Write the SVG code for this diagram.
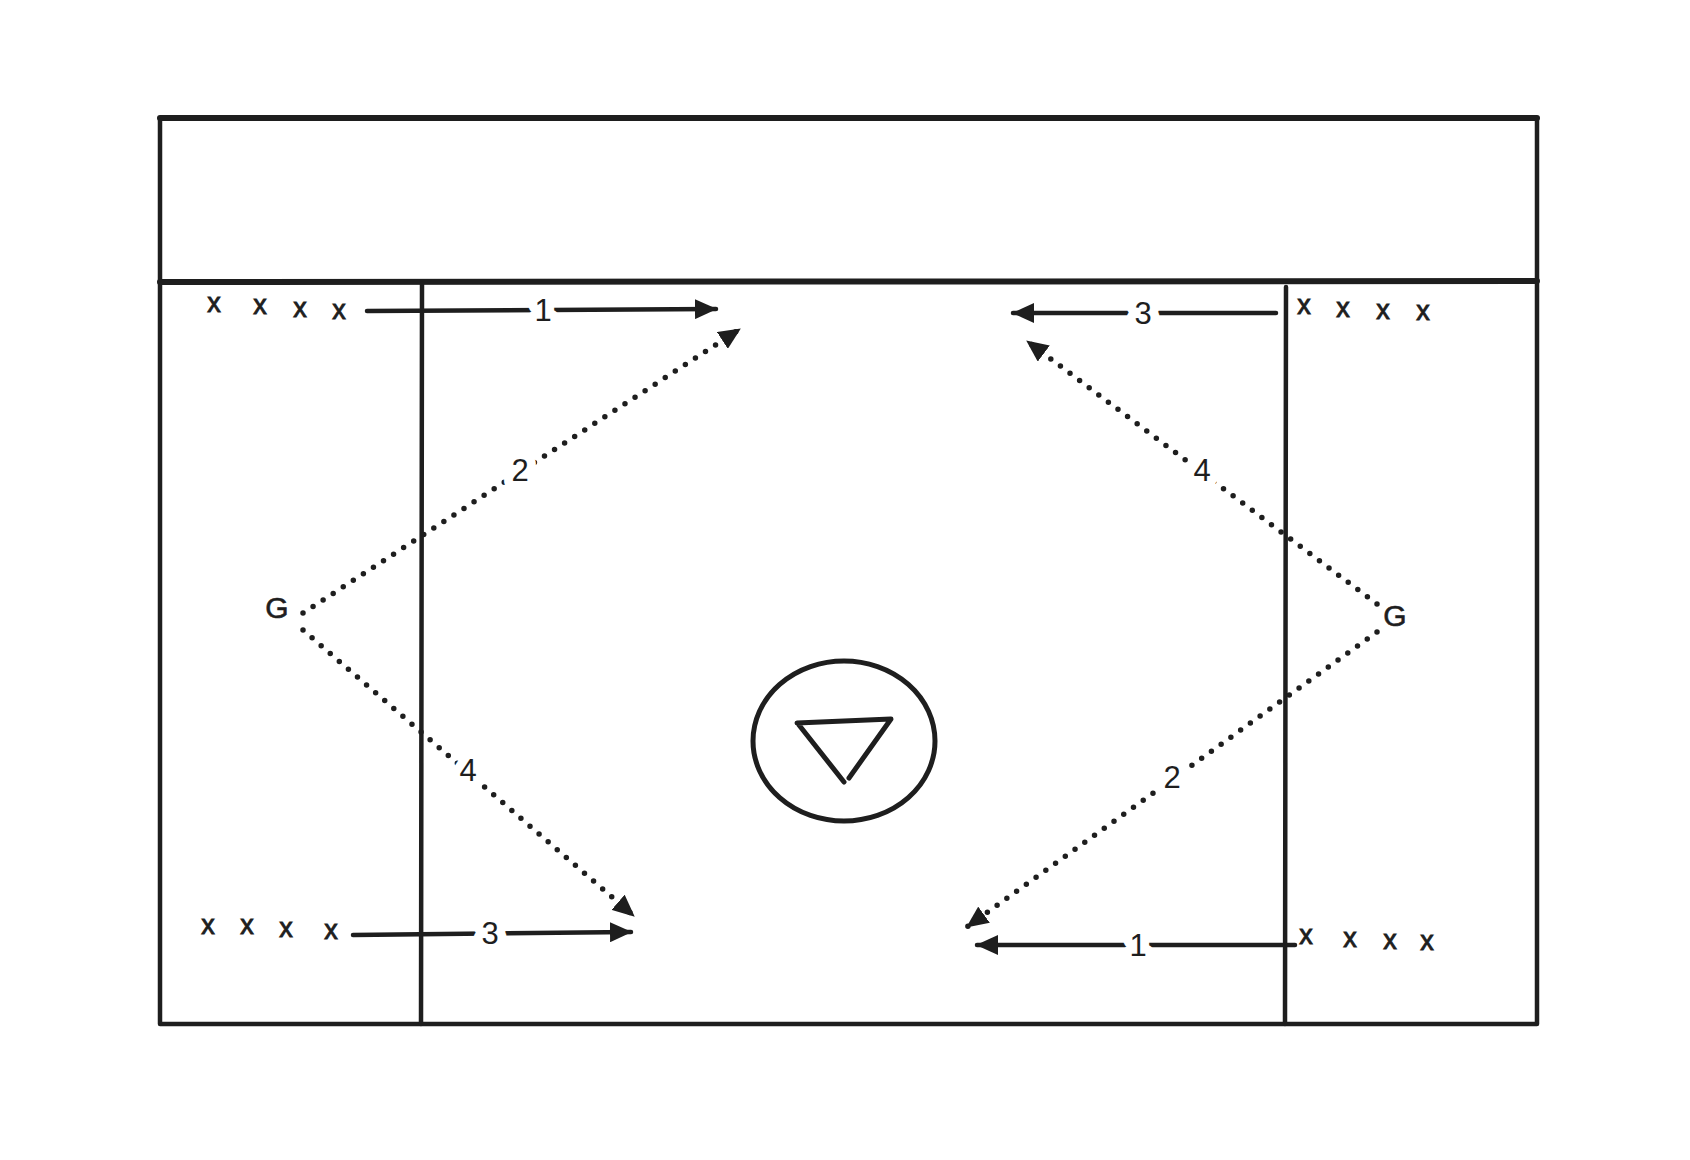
<svg xmlns="http://www.w3.org/2000/svg" width="1690" height="1160" viewBox="0 0 1690 1160">
<style>
.ln{fill:none;stroke:#1e1e1e;stroke-width:4.5;stroke-linecap:round;stroke-linejoin:round}
.thk{stroke-width:6}
.dot{fill:none;stroke:#1e1e1e;stroke-width:5.5;stroke-linecap:round;stroke-dasharray:0 12}
.lbl{font-family:"Liberation Sans",Arial,sans-serif;font-size:31px;fill:#1e1e1e;text-anchor:middle;stroke:#fff;stroke-width:18px;paint-order:stroke;stroke-linejoin:round}
.xs{font-family:"Liberation Sans",Arial,sans-serif;font-size:27px;fill:#1e1e1e;text-anchor:middle;stroke:#1e1e1e;stroke-width:0.9px}
.g{font-family:"Liberation Sans",Arial,sans-serif;font-size:30px;fill:#1e1e1e;text-anchor:middle;stroke:#1e1e1e;stroke-width:0.6px}
</style>
<defs>
<marker id="ah" viewBox="0 0 22 20" refX="21" refY="10" markerWidth="22" markerHeight="20" markerUnits="userSpaceOnUse" orient="auto">
<path d="M0,0 L22,10 L0,20 Z" fill="#1e1e1e"/>
</marker>
</defs>
<rect width="1690" height="1160" fill="#fff"/>
<g id="field">
<path class="ln" d="M160,118 L160,1024 L1537,1024 L1537,118"/>
<path class="ln thk" d="M160,118 L1537,118"/>
<path class="ln thk" d="M160,282 L1537,281"/>
<path class="ln" d="M422,284 L421,1024"/>
<path class="ln" d="M1286,287 L1285,1024"/>
</g>
<g id="goal">
<ellipse class="ln" cx="844" cy="741" rx="91" ry="80" style="stroke-width:5"/>
<path class="ln" style="stroke-width:5" d="M797,723 L891,719 L849,778 M799,725 L844,782"/>
</g>
<g id="players-top-left"><text class="xs" x="214 260 300 339" y="312 314 317 319">xxxx</text></g>
<g id="players-top-right"><text class="xs" x="1304 1343 1383 1423" y="314 317 319 320">xxxx</text></g>
<g id="players-bottom-left"><text class="xs" x="208 247 286 331" y="934 934 937 939">xxxx</text></g>
<g id="players-bottom-right"><text class="xs" x="1306 1350 1390 1427" y="944 947 949 950">xxxx</text></g>
<g id="goalie-left"><text class="g" x="277" y="618">G</text></g>
<g id="goalie-right"><text class="g" x="1395" y="626">G</text></g>
<g id="connectors">
<path class="ln" d="M367,311 L716,309" marker-end="url(#ah)"/>
<path class="ln" d="M1276,313 L1013,313" marker-end="url(#ah)"/>
<path class="ln" d="M353,935 L631,932" marker-end="url(#ah)"/>
<path class="ln" d="M1295,945 L977,945" marker-end="url(#ah)"/>
<path class="dot" d="M303,613 L740,329" marker-end="url(#ah)"/>
<path class="dot" d="M303,630 L634,916" marker-end="url(#ah)"/>
<path class="dot" d="M1377,604 L1027,341" marker-end="url(#ah)"/>
<path class="dot" d="M1377,632 L967,927" marker-end="url(#ah)"/>
<text class="lbl" x="543" y="321">1</text>
<text class="lbl" x="1143" y="324">3</text>
<text class="lbl" x="490" y="944">3</text>
<text class="lbl" x="1138" y="956">1</text>
<text class="lbl" x="520" y="481">2</text>
<text class="lbl" x="468" y="781">4</text>
<text class="lbl" x="1202" y="481">4</text>
<text class="lbl" x="1172" y="788">2</text>
</g>
</svg>
